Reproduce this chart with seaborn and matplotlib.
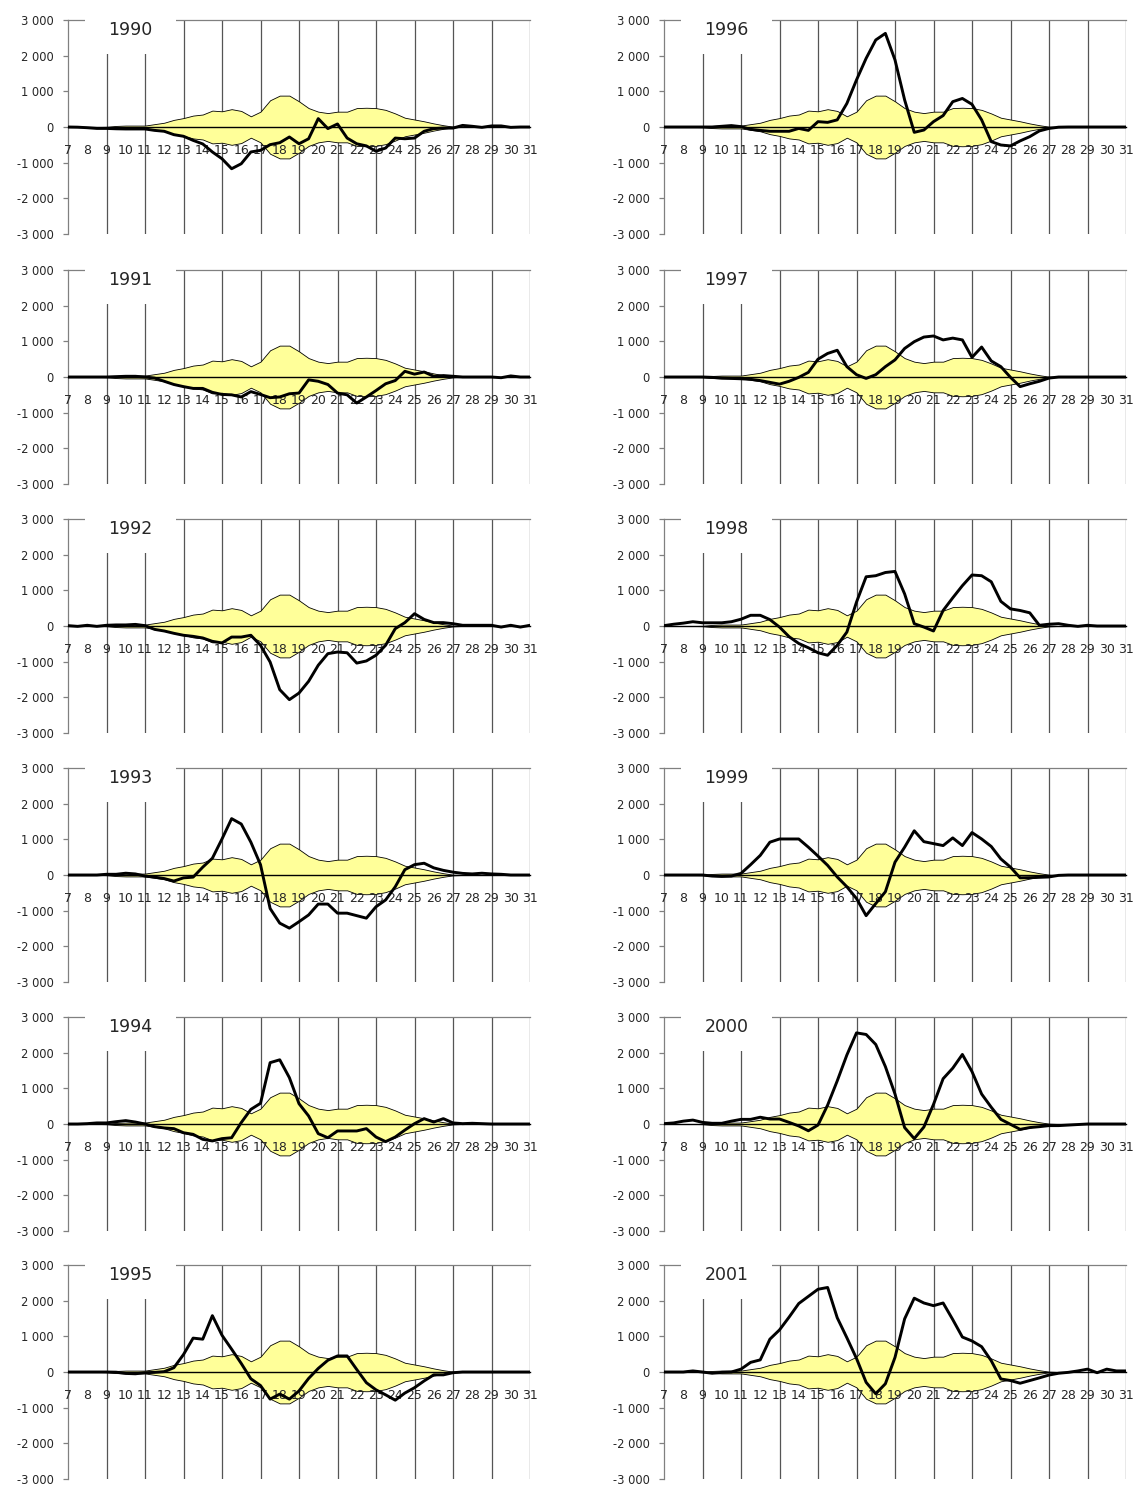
import numpy as np
import pandas as pd
import seaborn as sns
import matplotlib.pyplot as plt
from matplotlib.patches import Rectangle
from matplotlib.ticker import FuncFormatter

# half-day steps from the 7th to the 31st
half_days = np.arange(7, 31.5, 0.5)
day_labels = [str(d) for d in range(7, 32)]

# common band (drawn as +/- around zero)
envelope = [0, 0, 0, 0, 5, 30, 40, 40, 40,
            80, 120, 200, 250, 320, 350, 460, 440, 500, 450,
            300, 430, 750, 880, 880, 720, 530, 430, 390, 430,
            430, 530, 540, 530, 480, 380, 260, 210, 160, 100,
            50, 10, 0, 0, 0, 0, 0, 0, 0, 0]

years_left = ["1990", "1991", "1992", "1993", "1994", "1995"]
years_right = ["1996", "1997", "1998", "1999", "2000", "2001"]

y1990 = [0, -5, -20, -40, -40, -50, -55, -55, -55,
         -95, -120, -215, -260, -375, -475, -700, -890, -1170, -1030,
         -700, -655, -495, -440, -280, -470, -330, 235, -45, 85,
         -310, -470, -530, -680, -590, -310, -330, -310, -120, -45,
         -30, -30, 45, 20, -10, 30, 30, -10, 0, 0]
y1991 = [0, 0, 0, 0, 0, 10, 20, 20, 0,
         -30, -120, -210, -270, -320, -320, -430, -490, -500, -560,
         -410, -490, -580, -560, -470, -450, -80, -120, -210, -450,
         -500, -730, -560, -380, -190, -100, 160, 80, 140, 20,
         40, 20, 0, 0, 0, 0, -20, 30, 0, 0]
y1992 = [10, -10, 20, -10, 20, 30, 30, 45, 10,
         -95, -140, -205, -260, -290, -335, -430, -475, -310, -310,
         -260, -540, -1010, -1785, -2065, -1880, -1550, -1100, -775, -730,
         -750, -1040, -980, -820, -540, -75, 95, 345, 185, 95,
         95, 65, 20, 20, 20, 20, -30, 20, -30, 20]
y1993 = [0, 0, 0, 0, 20, 20, 50, 30, -30,
         -60, -100, -170, -80, -60, 220, 470, 1010, 1580, 1430,
         920, 290, -940, -1350, -1490, -1310, -1120, -815, -815, -1070,
         -1070, -1140, -1210, -890, -700, -330, 150, 290, 330, 200,
         130, 80, 45, 30, 50, 30, 20, 0, 0, 0]
y1994 = [0, 0, 10, 30, 30, 65, 95, 55, 0,
         -75, -110, -130, -245, -290, -430, -475, -410, -385, 40,
         410, 580, 1720, 1800, 1300, 570, 225, -270, -385, -195,
         -195, -195, -130, -365, -495, -365, -170, 10, 150, 55,
         150, 30, 10, 20, 10, 0, 0, 0, 0, 0]
y1995 = [0, 0, 0, 0, 0, -5, -40, -50, -20,
         -10, 10, 120, 490, 950, 920, 1580, 1030, 640, 240,
         -190, -380, -760, -620, -760, -530, -180, 100, 330, 450,
         450, 70, -300, -500, -640, -790, -590, -440, -250, -80,
         -80, -20, 0, 0, 0, 0, 0, 0, 0, 0]
y1996 = [0, 0, 0, 0, 0, 0, 20, 40, 10,
         -65, -95, -120, -120, -120, -40, -95, 150, 130, 200,
         660, 1320, 1925, 2440, 2625, 1880, 760, -150, -85, 150,
         320, 710, 800, 635, 200, -410, -505, -530, -390, -270,
         -110, -40, -5, 0, 0, 0, 0, 0, 0, 0]
y1997 = [0, 0, 0, 0, 0, -10, -30, -40, -50,
         -65, -100, -150, -200, -120, -10, 130, 500, 660, 750,
         290, 65, -40, 65, 290, 480, 800, 990, 1120, 1150,
         1040, 1090, 1040, 550, 840, 450, 290, -10, -270, -190,
         -120, -30, 0, 0, 0, 0, 0, 0, 0, 0]
y1998 = [10, 50, 80, 120, 90, 90, 90, 120, 190,
         300, 300, 180, -30, -300, -490, -610, -750, -820, -540,
         -170, 670, 1380, 1410, 1500, 1530, 900, 65, -30, -140,
         435, 790, 1130, 1430, 1410, 1240, 690, 480, 435, 370,
         20, 50, 65, 20, -10, 20, 0, 0, 0, 0]
y1999 = [0, 0, 0, 0, 0, -30, -40, -30, 45,
         290, 550, 920, 1010, 1010, 1010, 780, 530, 270, -55,
         -330, -660, -1140, -800, -470, 360, 780, 1240, 935, 880,
         825, 1040, 825, 1190, 1010, 800, 450, 220, -80, -75,
         -65, -55, -10, 0, 0, 0, 0, 0, 0, 0]
y2000 = [10, 30, 80, 110, 45, 20, 20, 80, 130,
         130, 190, 140, 140, 45, -55, -190, -30, 530, 1210,
         1935, 2555, 2510, 2230, 1610, 840, -100, -410, -85, 550,
         1270, 1565, 1950, 1470, 840, 470, 130, -10, -150, -100,
         -75, -45, -45, -30, -15, 0, 0, 0, 0, 0]
y2001 = [0, 0, 0, 30, 0, -35, -10, 0, 80,
         270, 340, 920, 1180, 1540, 1920, 2120, 2320, 2370, 1520,
         960, 380, -290, -610, -330, 410, 1490, 2070, 1935, 1860,
         1935, 1470, 980, 870, 710, 315, -195, -240, -315, -240,
         -165, -85, -35, -10, 30, 80, -20, 80, 30, 30]

series = {"1990": y1990, "1991": y1991, "1992": y1992, "1993": y1993,
          "1994": y1994, "1995": y1995, "1996": y1996, "1997": y1997,
          "1998": y1998, "1999": y1999, "2000": y2000, "2001": y2001}

sns.set_style("white")
plt.rcParams["font.family"] = ["DejaVu Sans"]

W, H = 1135, 1487
fig = plt.figure(figsize=(W / 100, H / 100), dpi=100)

env = np.array(envelope)
thousands = FuncFormatter(lambda v, p: f"{int(v):,}".replace(",", " "))


def draw_panel(left_px, top_px, year):
    ax = fig.add_axes([left_px / W, 1 - (top_px + 214) / H, 462 / W, 214 / H])
    df = pd.DataFrame({"day": half_days, "value": series[year]})

    # vertical guide lines every second day
    ax.vlines(range(9, 32, 2), -3000, 3000, color="#555555", lw=0.9, zorder=1)
    ax.fill_between(half_days, -env, env, facecolor="#FFFF99",
                    edgecolor="black", lw=0.6, zorder=2)
    sns.lineplot(data=df, x="day", y="value", ax=ax, color="black",
                 lw=2.1, zorder=5)

    ax.set_axisbelow(False)
    ax.set_xlim(7, 31)
    ax.set_ylim(-3000, 3000)
    ax.set_xticks(range(7, 32))
    ax.set_xticklabels(day_labels)
    ax.set_yticks(range(-3000, 3001, 1000))
    ax.yaxis.set_major_formatter(thousands)
    ax.set_xlabel("")
    ax.set_ylabel("")

    ax.spines["bottom"].set_position(("data", 0))
    ax.spines["bottom"].set_color("black")
    ax.spines["bottom"].set_linewidth(1.0)
    ax.spines["bottom"].set_zorder(4)
    for side in ["left", "top"]:
        ax.spines[side].set_color("#808080")
        ax.spines[side].set_linewidth(0.9)
    ax.spines["right"].set_visible(False)

    ax.tick_params(axis="x", length=0, pad=12, labelsize=9)
    ax.tick_params(axis="y", left=True, length=3.5, width=0.9, color="#808080",
                   pad=7, labelsize=8.3)

    # white label box covering the upper-left grid
    ax.add_patch(Rectangle((7.9, 2056), 4.7, 1100, facecolor="white",
                           edgecolor="none", zorder=6, clip_on=False))
    ax.text(10.25, 2720, year, ha="center", va="center", fontsize=12.5,
            zorder=7)


row_tops = [20, 270, 519, 768, 1017, 1265]
for top, yl, yr in zip(row_tops, years_left, years_right):
    draw_panel(68, top, yl)
    draw_panel(664, top, yr)

fig.savefig("out.png", dpi=100, facecolor="white")
